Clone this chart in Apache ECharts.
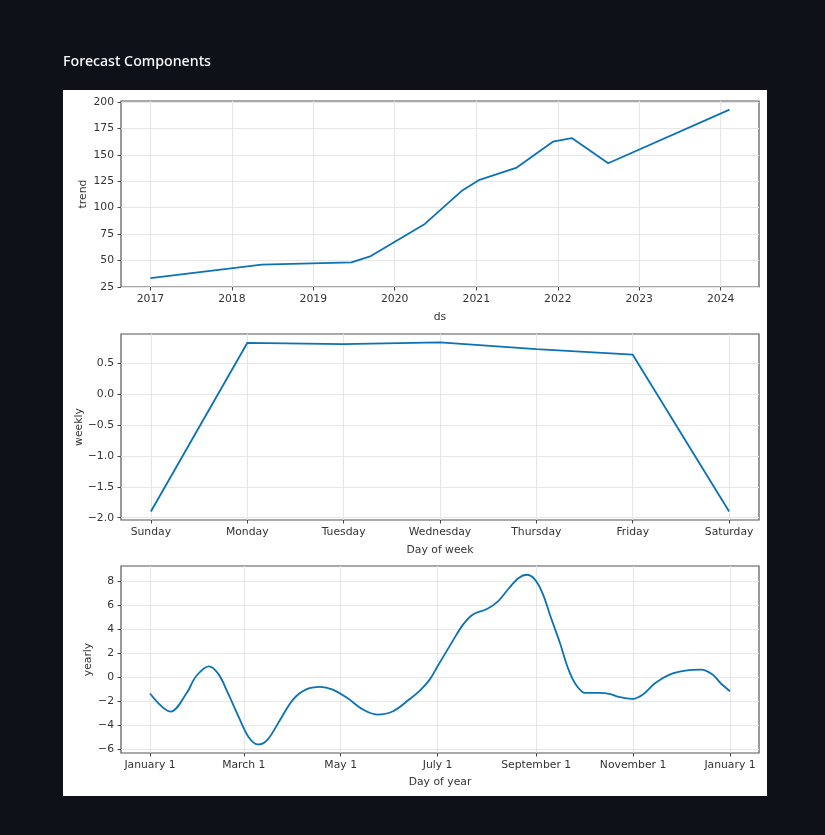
<!DOCTYPE html>
<html>
<head>
<meta charset="utf-8">
<script src="https://cdn.jsdelivr.net/npm/echarts@6.0.0/dist/echarts.min.js"></script>
<style>
  html, body { margin: 0; padding: 0; background: #0e1117; }
  #chart { width: 825px; height: 835px; }
</style>
</head>
<body>
<div id="chart"></div>
<script>
// trend component
const trendDates = ['2017-01-01', '2018-05-15', '2019-06-21', '2019-09-16', '2020-05-15', '2020-10-30',
                    '2021-01-15', '2021-06-28', '2021-12-10', '2022-03-05', '2022-08-15', '2024-02-10'];
const trendValues = [33.2, 46.0, 48.2, 54.2, 84.6, 116.3, 126.3, 137.6, 162.4, 165.8, 142.0, 192.8];
const trendYearTicks = ['2017-01-01', '2018-01-01', '2019-01-01', '2020-01-01', '2021-01-01', '2022-01-01', '2023-01-01', '2024-01-01'];
const trendTicks = [25, 50, 75, 100, 125, 150, 175, 200];

// weekly component
const weekDays = ['Sunday', 'Monday', 'Tuesday', 'Wednesday', 'Thursday', 'Friday', 'Saturday'];
const weeklyValues = [-1.90, 0.83, 0.81, 0.84, 0.73, 0.64, -1.90];
const weeklyTicks = [-2.0, -1.5, -1.0, -0.5, 0.0, 0.5];

// yearly component (day of year)
const yearDays = [0, 13, 23, 29, 37, 43, 49, 56, 62, 68, 74, 82, 90, 98, 107, 115, 124, 134, 143, 153,
                  163, 170, 176, 181, 191, 197, 203, 212, 219, 226, 232, 237, 242, 247, 252, 258, 263,
                  268, 274, 283, 289, 295, 303, 310, 318, 327, 337, 347, 354, 359, 365];
const yearlyValues = [-1.34, -2.84, -1.32, 0.10, 0.93, 0.30, -1.29, -3.35, -4.95, -5.58, -5.17, -3.50, -1.84, -1.01, -0.79, -1.01, -1.70, -2.67, -3.09, -2.81,
                      -1.84, -1.07, -0.18, 0.93, 3.15, 4.40, 5.23, 5.70, 6.34, 7.45, 8.28, 8.55, 8.19, 7.03, 5.09, 2.87, 0.79,
                      -0.59, -1.29, -1.29, -1.37, -1.62, -1.79, -1.43, -0.46, 0.24, 0.57, 0.65, 0.24, -0.46, -1.15];
const monthTickDays = [0, 59, 120, 181, 243, 304, 365];
const monthTickLabels = ['January 1', 'March 1', 'May 1', 'July 1', 'September 1', 'November 1', 'January 1'];
const yearlyTicks = [-6, -4, -2, 0, 2, 4, 6, 8];

const lineColor = '#0a72b5';
const font = 'DejaVu Sans';
const minus = s => String(s).replace('-', '\u2212');
const ts = d => Date.parse(d + 'T00:00:00Z');

// shared axis look, matplotlib style
function axisBase(extra) {
    return Object.assign({
        axisLine: { show: false, onZero: false },
        splitLine: { show: true, lineStyle: { color: '#e6e6e6', width: 1 } },
        nameLocation: 'middle',
        nameMoveOverlap: false,
        nameTextStyle: { color: '#333', fontFamily: font, fontSize: 10.8 }
    }, extra);
}
function ticks(values) {
    return { show: true, inside: false, length: 3.5, lineStyle: { color: '#444', width: 1 }, customValues: values };
}
function labels(values, formatter) {
    const l = { color: '#333', fontFamily: font, fontSize: 10.8, margin: 7, customValues: values };
    if (formatter) l.formatter = formatter;
    return l;
}

const chart = echarts.init(document.getElementById('chart'), null, { renderer: 'canvas' });

const gridBase = { left: 121, width: 638, height: 186, show: true, borderColor: '#555', borderWidth: 1.2, backgroundColor: '#fff' };
const yearTickTs = trendYearTicks.map(ts);

const option = {
    backgroundColor: '#0e1117',
    animation: false,
    title: {
        text: 'Forecast Components',
        left: 63,
        top: 55,
        padding: 0,
        textStyle: { color: '#fafafa', fontFamily: 'Noto Sans', fontSize: 14.2, fontWeight: 500 }
    },
    graphic: [{
        type: 'rect', z: -10,
        shape: { x: 63, y: 90, width: 704, height: 706 },
        style: { fill: '#ffffff' }
    }],
    grid: [
        Object.assign({ top: 101 }, gridBase),
        Object.assign({ top: 334 }, gridBase),
        Object.assign({ top: 566 }, gridBase, { height: 187 })
    ],
    xAxis: [
        axisBase({
            type: 'value', gridIndex: 0,
            min: ts('2016-08-22'), max: ts('2024-06-21'),
            name: 'ds', nameGap: 25,
            axisTick: ticks(yearTickTs),
            axisLabel: labels(yearTickTs, v => String(new Date(v).getUTCFullYear()))
        }),
        axisBase({
            type: 'value', gridIndex: 1, min: -0.31, max: 6.31,
            name: 'Day of week', nameGap: 25,
            axisTick: ticks([0, 1, 2, 3, 4, 5, 6]),
            axisLabel: labels([0, 1, 2, 3, 4, 5, 6], v => weekDays[Math.round(v)])
        }),
        axisBase({
            type: 'value', gridIndex: 2, min: -18.25, max: 383.25,
            name: 'Day of year', nameGap: 24,
            axisTick: ticks(monthTickDays),
            axisLabel: labels(monthTickDays, v => monthTickLabels[monthTickDays.indexOf(v)])
        })
    ],
    yAxis: [
        axisBase({
            type: 'value', gridIndex: 0, min: 24.9, max: 200.9,
            name: 'trend', nameGap: 32, nameRotate: 90,
            axisTick: ticks(trendTicks),
            axisLabel: labels(trendTicks)
        }),
        axisBase({
            type: 'value', gridIndex: 1, min: -2.037, max: 0.975,
            name: 'weekly', nameGap: 36, nameRotate: 90,
            axisTick: ticks(weeklyTicks),
            axisLabel: labels(weeklyTicks, v => minus(v.toFixed(1)))
        }),
        axisBase({
            type: 'value', gridIndex: 2, min: -6.29, max: 9.28,
            name: 'yearly', nameGap: 27, nameRotate: 90,
            axisTick: ticks(yearlyTicks),
            axisLabel: labels(yearlyTicks, v => minus(Math.round(v)))
        })
    ],
    series: [
        {
            type: 'line', xAxisIndex: 0, yAxisIndex: 0,
            data: trendDates.map((d, i) => [ts(d), trendValues[i]]),
            showSymbol: false, lineStyle: { color: lineColor, width: 1.8 }
        },
        {
            type: 'line', xAxisIndex: 1, yAxisIndex: 1,
            data: weekDays.map((d, i) => [i, weeklyValues[i]]),
            showSymbol: false, lineStyle: { color: lineColor, width: 1.8 }
        },
        {
            type: 'line', xAxisIndex: 2, yAxisIndex: 2,
            data: yearDays.map((d, i) => [d, yearlyValues[i]]),
            smooth: 0.35, showSymbol: false, lineStyle: { color: lineColor, width: 1.8 }
        }
    ]
};

chart.setOption(option);
</script>
</body>
</html>
